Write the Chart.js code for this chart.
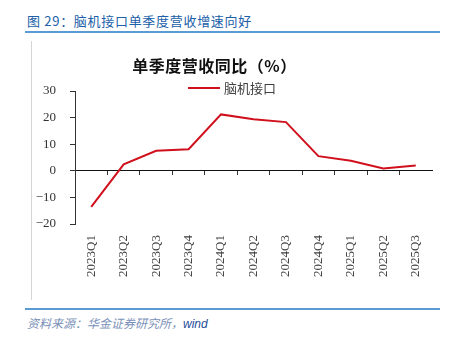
<!DOCTYPE html>
<html><head><meta charset="utf-8">
<script src="https://cdn.jsdelivr.net/npm/chart.js@4"></script>
<style>
html,body{margin:0;padding:0;background:#fff;width:452px;height:341px;overflow:hidden;position:relative;font-family:"Noto Sans CJK SC";}
#hdr{position:absolute;left:27px;top:11px;font-size:13px;color:#2060a8;letter-spacing:0.7px;white-space:nowrap;line-height:19px;}
#hline{position:absolute;left:25px;top:31px;width:415px;height:2px;background:#5b9bd5;}
#vline{position:absolute;left:31px;top:41px;width:1px;height:259px;background:#d4d4d4;}
#fline{position:absolute;left:25px;top:308px;width:415px;height:2px;background:#5b9bd5;}
#ftr{position:absolute;left:27px;top:314px;font-size:12px;font-style:italic;color:#7a90b8;white-space:nowrap;line-height:17px;}
#ftr span{color:#1f4e9a;font-family:"Liberation Sans";}
#ctitle{position:absolute;left:0;top:54px;width:429px;text-align:center;font-size:16px;font-weight:bold;color:#111;line-height:22px;letter-spacing:0.5px;}
#wrap{position:absolute;left:0;top:40px;width:452px;height:260px;}
</style>
</head><body>
<div id="hdr">图 29：脑机接口单季度营收增速向好</div>
<div id="hline"></div>
<div id="vline"></div>
<div id="wrap"><canvas id="c" width="452" height="260"></canvas></div>
<div id="ctitle">单季度营收同比（%）</div>
<div id="fline"></div>
<div id="ftr">资料来源：华金证券研究所，<span>wind</span></div>
<script>
const categories = ['2023Q1','2023Q2','2023Q3','2023Q4','2024Q1','2024Q2','2024Q3','2024Q4','2025Q1','2025Q2','2025Q3'];
const revenueGrowth = [-13.6, 2.4, 7.5, 8.1, 21.2, 19.4, 18.3, 5.5, 3.8, 0.9, 2.0];
const yTicks = [-20, -10, 0, 10, 20, 30];
const seriesName = '脑机接口';

const legendPlugin = {
  id: 'customLegend',
  afterDraw(chart) {
    const ds = chart.data.datasets[0];
    const c = chart.ctx;
    c.save();
    c.strokeStyle = ds.borderColor;
    c.lineWidth = 2;
    c.beginPath(); c.moveTo(188, 48); c.lineTo(220, 48); c.stroke();
    c.font = '13px "Noto Sans CJK SC"';
    c.fillStyle = '#404040';
    c.textBaseline = 'middle';
    c.fillText(ds.label, 224, 48);
    c.restore();
  }
};

new Chart(document.getElementById('c'), {
  type: 'line',
  data: {
    labels: categories,
    datasets: [{
      label: seriesName,
      data: revenueGrowth,
      borderColor: '#d0101c',
      borderWidth: 2,
      pointRadius: 0,
      tension: 0,
      fill: false,
      xAxisID: 'x',
      yAxisID: 'y'
    }]
  },
  options: {
    responsive: false,
    animation: false,
    layout: { padding: { top: 51, right: 20, left: 0, bottom: 0 } },
    plugins: { legend: { display: false }, title: { display: false }, tooltip: { enabled: false } },
    scales: {
      x: {
        type: 'category',
        position: { y: 0 },
        offset: true,
        grid: {
          offset: true, drawOnChartArea: false, drawTicks: true, tickLength: 4,
          tickColor: ctx => (ctx.index === undefined || ctx.index === 0) ? 'rgba(0,0,0,0)' : '#333'
        },
        border: { display: true, color: '#111', width: 1 },
        ticks: { display: false }
      },
      x2: {
        type: 'category',
        position: 'bottom',
        offset: true,
        min: categories[0],
        max: categories[categories.length - 1],
        grid: { display: false, drawTicks: false },
        border: { display: false },
        ticks: { minRotation: 90, maxRotation: 90, autoSkip: false, padding: 11,
                 font: { family: 'Liberation Serif', size: 13 }, color: '#404040' },
        afterFit(s) { s.height = 76; }
      },
      y: {
        position: 'left',
        min: yTicks[0],
        max: yTicks[yTicks.length - 1],
        ticks: { stepSize: 10, padding: 14, font: { family: 'Liberation Serif', size: 13 }, color: '#333',
                 callback: v => String(v).replace('-', '−') },
        grid: { drawOnChartArea: false, drawTicks: true, tickLength: 5, color: '#333' },
        border: { display: true, color: '#333' },
        afterFit(s) { s.width = 75; }
      }
    }
  },
  plugins: [legendPlugin]
});
</script>
</body></html>
